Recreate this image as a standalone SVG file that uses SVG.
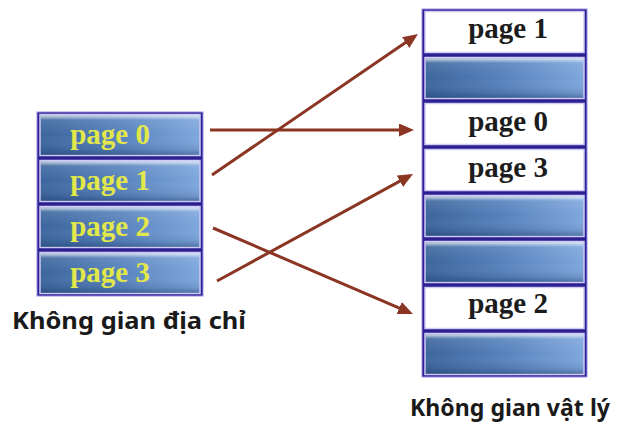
<svg xmlns="http://www.w3.org/2000/svg" width="620" height="429" viewBox="0 0 620 429">
  <defs>
    <linearGradient id="blueH" x1="0" y1="0" x2="1" y2="0">
      <stop offset="0" stop-color="#3b659c"/>
      <stop offset="0.5" stop-color="#5682bc"/>
      <stop offset="1" stop-color="#7ea7dd"/>
    </linearGradient>
    <linearGradient id="shadeV" x1="0" y1="0" x2="0" y2="1">
      <stop offset="0" stop-color="#ffffff" stop-opacity="0.75"/>
      <stop offset="0.12" stop-color="#ffffff" stop-opacity="0.1"/>
      <stop offset="0.5" stop-color="#ffffff" stop-opacity="0"/>
      <stop offset="0.88" stop-color="#1c3560" stop-opacity="0.15"/>
      <stop offset="1" stop-color="#1c3560" stop-opacity="0.45"/>
    </linearGradient>
    <marker id="arrow" markerUnits="userSpaceOnUse" markerWidth="16" markerHeight="13" refX="11" refY="6.5" orient="auto">
      <path d="M0,0 L15,6.5 L0,13 z" fill="#8b3523"/>
    </marker>
    <style>
      .panel { fill: #2c1f8f; stroke: #9a92e6; stroke-width: 1; }
      .cell { stroke: #cfcaf6; stroke-width: 1.5; }
      .blue { fill: url(#blueH); }
      .shade { fill: url(#shadeV); stroke: none; }
      .white { fill: #ffffff; }
      .ltxt { font-family: "Liberation Serif", "Times New Roman", serif; font-weight: bold; font-size: 29px; fill: #e2e84a; text-anchor: middle; }
      .rtxt { font-family: "Liberation Serif", "Times New Roman", serif; font-weight: bold; font-size: 29px; fill: #1c1c1c; text-anchor: middle; }
      .label { font-family: "Noto Sans", "Open Sans", sans-serif; font-weight: bold; fill: #1a1a1a; }
      .conn { stroke: #8b3523; stroke-width: 3; fill: none; marker-end: url(#arrow); }
    </style>
  </defs>

  <!-- Left panel: logical address space -->
  <g id="logical-space">
    <rect class="panel" x="37" y="112" width="166" height="184"/>
    <g id="lpage0">
      <rect class="cell blue" x="40" y="114.5" width="160" height="41"/>
      <rect class="shade" x="40.75" y="115.25" width="158.5" height="39.5"/>
      <text class="ltxt" x="110" y="144">page 0</text>
    </g>
    <g id="lpage1">
      <rect class="cell blue" x="40" y="160.5" width="160" height="41"/>
      <rect class="shade" x="40.75" y="161.25" width="158.5" height="39.5"/>
      <text class="ltxt" x="110" y="190">page 1</text>
    </g>
    <g id="lpage2">
      <rect class="cell blue" x="40" y="206.5" width="160" height="41"/>
      <rect class="shade" x="40.75" y="207.25" width="158.5" height="39.5"/>
      <text class="ltxt" x="110" y="236">page 2</text>
    </g>
    <g id="lpage3">
      <rect class="cell blue" x="40" y="252.5" width="160" height="41"/>
      <rect class="shade" x="40.75" y="253.25" width="158.5" height="39.5"/>
      <text class="ltxt" x="110" y="282">page 3</text>
    </g>
    <text class="label" x="12" y="329" font-size="24" textLength="234" lengthAdjust="spacingAndGlyphs">Không gian địa chỉ</text>
  </g>

  <!-- Right panel: physical memory -->
  <g id="physical-space">
    <rect class="panel" x="422" y="9" width="165" height="368"/>
    <g id="frame0">
      <rect class="cell white" x="425" y="11.5" width="159" height="41"/>
      <text class="rtxt" x="508" y="38">page 1</text>
    </g>
    <g id="frame1">
      <rect class="cell blue" x="425" y="57.5" width="159" height="41"/>
      <rect class="shade" x="425.75" y="58.25" width="157.5" height="39.5"/>
    </g>
    <g id="frame2">
      <rect class="cell white" x="425" y="103.5" width="159" height="41"/>
      <text class="rtxt" x="508" y="131">page 0</text>
    </g>
    <g id="frame3">
      <rect class="cell white" x="425" y="149.5" width="159" height="41"/>
      <text class="rtxt" x="508" y="177">page 3</text>
    </g>
    <g id="frame4">
      <rect class="cell blue" x="425" y="195.5" width="159" height="41"/>
      <rect class="shade" x="425.75" y="196.25" width="157.5" height="39.5"/>
    </g>
    <g id="frame5">
      <rect class="cell blue" x="425" y="241.5" width="159" height="41"/>
      <rect class="shade" x="425.75" y="242.25" width="157.5" height="39.5"/>
    </g>
    <g id="frame6">
      <rect class="cell white" x="425" y="287.5" width="159" height="41"/>
      <text class="rtxt" x="508" y="313">page 2</text>
    </g>
    <g id="frame7">
      <rect class="cell blue" x="425" y="333.5" width="159" height="41"/>
      <rect class="shade" x="425.75" y="334.25" width="157.5" height="39.5"/>
    </g>
    <text class="label" x="410" y="416" font-size="24" textLength="200" lengthAdjust="spacingAndGlyphs">Không gian vật lý</text>
  </g>

  <!-- Connectors -->
  <g id="connectors">
    <line class="conn" x1="210" y1="130" x2="410" y2="130"/>
    <line class="conn" x1="212" y1="175" x2="414.7" y2="36.3"/>
    <line class="conn" x1="213" y1="228" x2="409.3" y2="312.4"/>
    <line class="conn" x1="217" y1="281" x2="409.5" y2="175.9"/>
  </g>
</svg>
